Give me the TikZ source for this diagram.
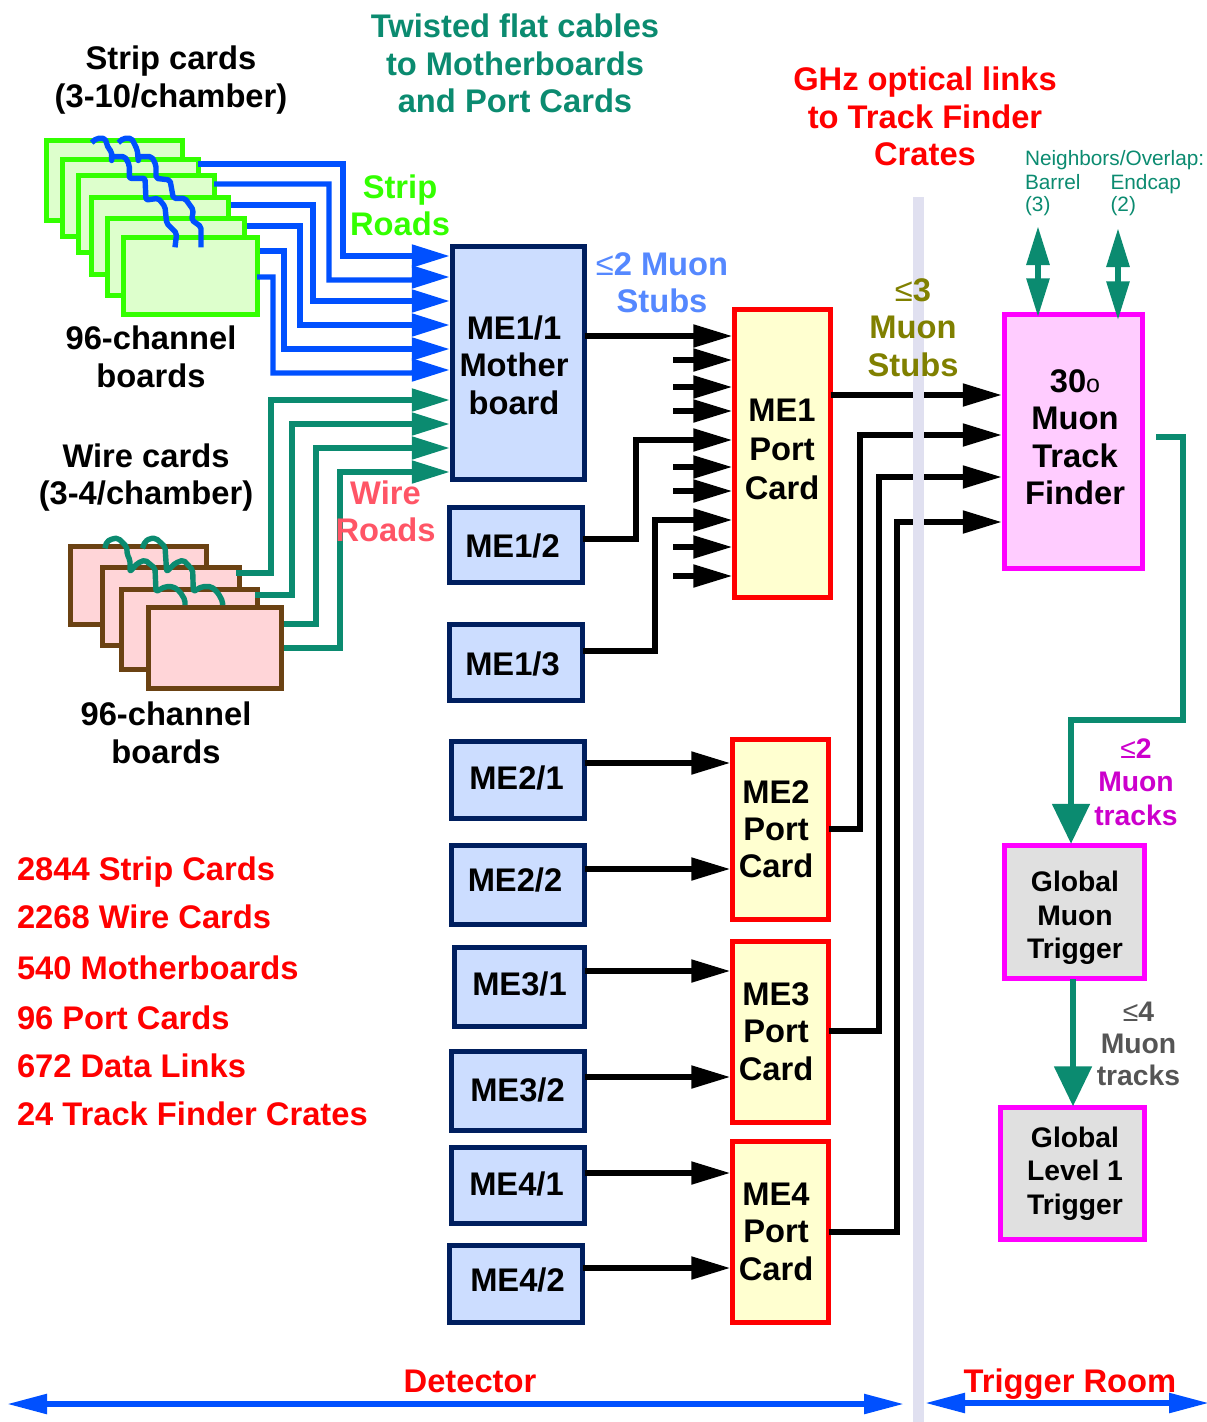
\documentclass[tikz,border=0pt]{standalone}
\usepackage{fontspec}
\setmainfont{Liberation Sans}
\newfontfamily\regf{Liberation Sans}
\usetikzlibrary{arrows.meta}
\definecolor{teal1}{HTML}{0B8B70}
\definecolor{blue1}{HTML}{0050FF}
\definecolor{navy1}{HTML}{001F5F}
\definecolor{green1}{HTML}{33FF00}
\definecolor{brown1}{HTML}{6B4213}
\definecolor{mag1}{HTML}{FF00FF}
\definecolor{stubblue}{HTML}{5588FF}
\definecolor{olive1}{HTML}{808000}
\definecolor{wirered}{HTML}{FF5566}
\definecolor{trackmag}{HTML}{CC00CC}
\definecolor{bandcol}{HTML}{E0E0F0}
\definecolor{stripfill}{HTML}{DDFFCC}
\definecolor{wirefill}{HTML}{FFD5D8}
\definecolor{mefill}{HTML}{CCDDFF}
\definecolor{portfill}{HTML}{FFFFD0}
\definecolor{mtffill}{HTML}{FFCCFF}
\definecolor{gmtfill}{HTML}{E0E0E0}
\definecolor{greytxt}{HTML}{555555}
\newcommand{\bx}[6]{\node[#1,minimum width={#4-#2-4.5},minimum height={#5-#3-4.5}] (#6) at ({(#2+#4)/2},{(#3+#5)/2}) {};}
\newcommand{\leqs}{{\regf\mdseries ≤}}
\tikzset{
  basebox/.style={draw,inner sep=0pt,outer sep=0pt,line width=5pt},
  stripcard/.style={basebox,draw=green1,fill=stripfill},
  wirecard/.style={basebox,draw=brown1,fill=wirefill},
  mebox/.style={basebox,draw=navy1,fill=mefill},
  portbox/.style={basebox,draw=red,fill=portfill},
  mtfbox/.style={basebox,draw=mag1,fill=mtffill},
  gmtbox/.style={basebox,draw=mag1,fill=gmtfill},
  conn/.style={line width=5.3pt},
  bluearr/.style={conn,draw=blue1,-{Triangle[length=38pt,width=22pt]},shorten >=2.5pt},
  tealarr/.style={conn,draw=teal1,-{Triangle[length=38pt,width=22pt]},shorten >=2.5pt},
  blkarr/.style={conn,draw=black,line width=5.3pt,-{Triangle[length=39pt,width=22pt]},shorten >=2pt},
  bigteal/.style={conn,draw=teal1,-{Triangle[length=40pt,width=37pt]}},
  dblteal/.style={conn,draw=teal1,line width=6pt,{Triangle[length=39pt,width=22pt]}-{Triangle[length=39pt,width=22pt]}},
  botarr/.style={conn,draw=blue1,line width=5.5pt,{Triangle[length=40pt,width=19pt]}-{Triangle[length=40pt,width=19pt]}},
  squig/.style={line width=5.4pt,rounded corners=2pt,line join=round},
  txt/.style={inner sep=0pt,outer sep=0pt,align=center,yshift=-3.6pt,
     execute at begin node=\strut,execute at end node=\strut},
  big/.style={txt,font=\fontsize{32.7}{37.4}\selectfont\bfseries},
  port/.style={txt,font=\fontsize{32.7}{39}\selectfont\bfseries},
  mid/.style={txt,font=\fontsize{28.3}{33.5}\selectfont\bfseries},
  small/.style={txt,align=left,font=\fontsize{20.8}{22.5}\selectfont,text=teal1},
  redlist/.style={big,anchor=west,text=red}
}
\begin{document}
\begin{tikzpicture}[x=1pt,y=-1pt]
\useasboundingbox (0,0) rectangle (1207,1422);

% strip cards
\bx{stripcard}{44}{138}{185}{223}{sc1}
\bx{stripcard}{60}{157}{201}{239}{sc2}
\bx{stripcard}{76}{173}{217}{255}{sc3}
\bx{stripcard}{89}{195}{231}{277}{sc4}
\bx{stripcard}{105}{216}{247}{298}{sc5}
\bx{stripcard}{121}{235}{260}{317}{sc6}
% wire cards
\bx{wirecard}{68}{544}{209}{627}{wc1}
\bx{wirecard}{100}{565}{242}{648}{wc2}
\bx{wirecard}{119}{587}{260}{672}{wc3}
\bx{wirecard}{146}{605}{284}{691}{wc4}
% chamber boxes
\bx{mebox}{450}{244}{587}{482}{me11}
\bx{mebox}{447}{505}{585}{585}{me12}
\bx{mebox}{447}{622}{585}{703}{me13}
\bx{mebox}{449}{739}{587}{821}{me21}
\bx{mebox}{449}{843}{587}{927}{me22}
\bx{mebox}{452}{945}{587}{1029}{me31}
\bx{mebox}{449}{1049}{587}{1133}{me32}
\bx{mebox}{449}{1145}{587}{1226}{me41}
\bx{mebox}{447}{1243}{585}{1325}{me42}
% port cards
\bx{portbox}{732}{307}{833}{600}{pc1}
\bx{portbox}{730}{737}{831}{922}{pc2}
\bx{portbox}{730}{939}{831}{1125}{pc3}
\bx{portbox}{730}{1139}{831}{1325}{pc4}
% trigger boxes
\bx{mtfbox}{1002}{312}{1145}{571}{mtf}
\bx{gmtbox}{1002}{843}{1147}{981}{gmt}
\bx{gmtbox}{998}{1105}{1147}{1242}{gl}

% free ends
\coordinate (s1) at (198,164); \coordinate (s2) at (214,184); \coordinate (s3) at (231,205);
\coordinate (s4) at (247,226); \coordinate (s5) at (260,251); \coordinate (s6) at (257,277);
\coordinate (w1) at (236,573); \coordinate (w2) at (255,595); \coordinate (w3) at (284,624); \coordinate (w4) at (284,648);
\foreach \n/\y in {a/360,b/387,c/411,d/467,e/491,f/547,g/576}{\coordinate (st\n) at (673,\y);}
\coordinate (mtfout) at (1156,437);
\coordinate (nb1) at (1038,226); \coordinate (nb2) at (1118,228);
\coordinate (dl) at (7,1404); \coordinate (dr) at (904,1404);
\coordinate (tl) at (925,1403); \coordinate (tr) at (1209,1403);

% squiggles
\begin{scope}[shift={(30,120)},scale=0.33333]
\draw[squig,blue1] (185,68)--(200,55)--(225,55)--(235,85)--(245,95)--(245,125)--(245,110)--(285,110)--(298,135)--(298,175)--(345,175)--(348,240)--(385,235)--(405,260)--(410,310)--(440,340)--(435,382);
\draw[squig,blue1] (265,68)--(280,55)--(305,55)--(322,90)--(325,125)--(325,110)--(365,110)--(378,135)--(378,175)--(420,180)--(430,235)--(465,235)--(490,270)--(485,300)--(513,320)--(513,382);
\end{scope}
\begin{scope}[shift={(50,390)},scale=0.33333]
\draw[squig,teal1] (165,475)--(170,455)--(190,445)--(205,445)--(230,470)--(232,495)--(240,510)--(240,545)--(262,520)--(285,510)--(315,535)--(318,605)--(345,590)--(370,590)--(390,605)--(405,630)--(405,645);
\draw[squig,teal1] (277,475)--(285,455)--(300,445)--(318,445)--(345,470)--(350,545)--(375,520)--(400,510)--(428,540)--(430,605)--(455,590)--(485,590)--(505,610)--(518,635)--(518,645);
\end{scope}

% strip roads
\draw[bluearr] (s1)--(343,164)--(343,256)--(me11.west |- 0,256);
\draw[bluearr] (s2)--(329,184)--(329,280)--(413,280)--(415,277)--(me11.west |- 0,277);
\draw[bluearr] (s3)--(313,205)--(313,301)--(me11.west |- 0,301);
\draw[bluearr] (s4)--(300,226)--(300,325)--(me11.west |- 0,325);
\draw[bluearr] (s5)--(284,251)--(284,349)--(me11.west |- 0,349);
\draw[bluearr] (s6)--(273,277)--(273,373)--(413,373)--(415,370)--(me11.west |- 0,370);
% wire roads
\draw[tealarr] (w1)--(271,573)--(271,400)--(me11.west |- 0,400);
\draw[tealarr] (w2)--(292,595)--(292,424)--(me11.west |- 0,424);
\draw[tealarr] (w3)--(316,624)--(316,448)--(me11.west |- 0,448);
\draw[tealarr] (w4)--(340,648)--(340,472)--(me11.west |- 0,472);
% into ME1 port card
\draw[blkarr] (me11.east |- 0,336)--(pc1.west |- 0,336);
\foreach \n/\y in {a/360,b/387,c/411,d/467,e/491,f/547,g/576}{\draw[blkarr] (st\n)--(pc1.west |- 0,\y);}
\draw[blkarr] (me12.east |- 0,539)--(636,539)--(636,440)--(pc1.west |- 0,440);
\draw[blkarr] (me13.east |- 0,651)--(655,651)--(655,520)--(pc1.west |- 0,520);
% chambers to port cards
\draw[blkarr] (me21.east |- 0,763)--(pc2.west |- 0,763);
\draw[blkarr] (me22.east |- 0,869)--(pc2.west |- 0,869);
\draw[blkarr] (me31.east |- 0,971)--(pc3.west |- 0,971);
\draw[blkarr] (me32.east |- 0,1077)--(pc3.west |- 0,1077);
\draw[blkarr] (me41.east |- 0,1173)--(pc4.west |- 0,1173);
\draw[blkarr] (me42.east |- 0,1268)--(pc4.west |- 0,1268);
% port cards to track finder
\draw[blkarr,shorten >=2.5pt] (pc1.east |- 0,395)--(mtf.west |- 0,395);
\draw[blkarr,shorten >=2.5pt] (pc2.east |- 0,829)--(860,829)--(860,435)--(mtf.west |- 0,435);
\draw[blkarr,shorten >=2.5pt] (pc3.east |- 0,1031)--(879,1031)--(879,477)--(mtf.west |- 0,477);
\draw[blkarr,shorten >=2.5pt] (pc4.east |- 0,1232)--(897,1232)--(897,522)--(mtf.west |- 0,522);
% trigger
\draw[bigteal,shorten >=1.5pt] (mtfout)--(1183,437)--(1183,720)--(1071,720)--(gmt.north -| 1071,0);
\draw[bigteal,shorten >=1pt] (gmt.south -| 1073,0)--(gl.north -| 1073,0);
\draw[dblteal,shorten >=-3pt] (nb1)--(mtf.north -| 1038,0);
\draw[dblteal,shorten >=-6pt] (nb2)--(mtf.north -| 1118,0);
% bottom
\draw[botarr] (dl)--(dr);
\draw[botarr] (tl)--(tr);

% separator band
\fill[bandcol] (913,197) rectangle (924,1422);

% texts
\node[big] (t1) at (171,78.5) {Strip cards\\(3-10/chamber)};
\node[big,text=teal1] (t2) at (515,65.5) {Twisted flat cables\\to Motherboards\\and Port Cards};
\node[big,text=red] (t3) at (925,118.5) {GHz optical links\\to Track Finder\\Crates};
\node[big,text=green1] (t4) at (400,207) {Strip\\Roads};
\node[big,text=stubblue] (t5) at (662,284.5) {\leqs 2 Muon\\Stubs};
\node[big,text=olive1] (t6) at (913,329.5) {\leqs 3\\Muon\\Stubs};
\node[small,anchor=west] (t7) at (1025,157) {Neighbors/Overlap:};
\node[small,anchor=west] (t8) at (1025,192.5) {Barrel\\(3)};
\node[small,anchor=west] (t9) at (1110.5,192.5) {Endcap\\(2)};
\node[big] (t10) at (151,358.5) {96-channel\\boards};
\node[big] (t11) at (146,476) {Wire cards\\(3-4/chamber)};
\node[big,text=wirered] (t12) at (385.5,513) {Wire\\Roads};
\node[big] (t13) at (166,734.5) {96-channel\\boards};
\node[redlist] (r1) at (17,869) {2844 Strip Cards};
\node[redlist] (r2) at (17,917) {2268 Wire Cards};
\node[redlist] (r3) at (17,968) {540 Motherboards};
\node[redlist] (r4) at (17,1018) {96 Port Cards};
\node[redlist] (r5) at (17,1066) {672 Data Links};
\node[redlist] (r6) at (17,1114) {24 Track Finder Crates};
\node[big] (l11) at (514,367) {ME1/1\\Mother\\board};
\node[big] (l12) at (512.5,546) {ME1/2};
\node[big] (l13) at (512.5,664) {ME1/3};
\node[big] (l21) at (516.5,778) {ME2/1};
\node[big] (l22) at (515,880) {ME2/2};
\node[big] (l31) at (519.5,984) {ME3/1};
\node[big] (l32) at (517.5,1090) {ME3/2};
\node[big] (l41) at (516.5,1184) {ME4/1};
\node[big] (l42) at (517.5,1280) {ME4/2};
\node[port] (p1) at (782,451.5) {ME1\\Port\\Card};
\node[big] (p2) at (776,831) {ME2\\Port\\Card};
\node[big] (p3) at (776,1033.5) {ME3\\Port\\Card};
\node[big] (p4) at (776,1233.5) {ME4\\Port\\Card};
\node[big] (f1) at (1075,439) {30{\fontsize{25}{25}\selectfont\mdseries o}\\Muon\\Track\\Finder};
\node[mid] (g1) at (1075,916.5) {Global\\Muon\\Trigger};
\node[mid] (g2) at (1075,1172) {Global\\Level 1\\Trigger};
\node[mid,text=trackmag] (g3) at (1136,783.5) {\leqs 2\\Muon\\tracks};
\node[mid,text=greytxt,font=\fontsize{28.3}{32}\selectfont\bfseries] (g4) at (1138.5,1045) {\leqs 4\\Muon\\tracks};
\node[big,text=red] (b1) at (470,1381) {Detector};
\node[big,text=red] (b2) at (1070,1381) {Trigger Room};
\end{tikzpicture}
\end{document}
